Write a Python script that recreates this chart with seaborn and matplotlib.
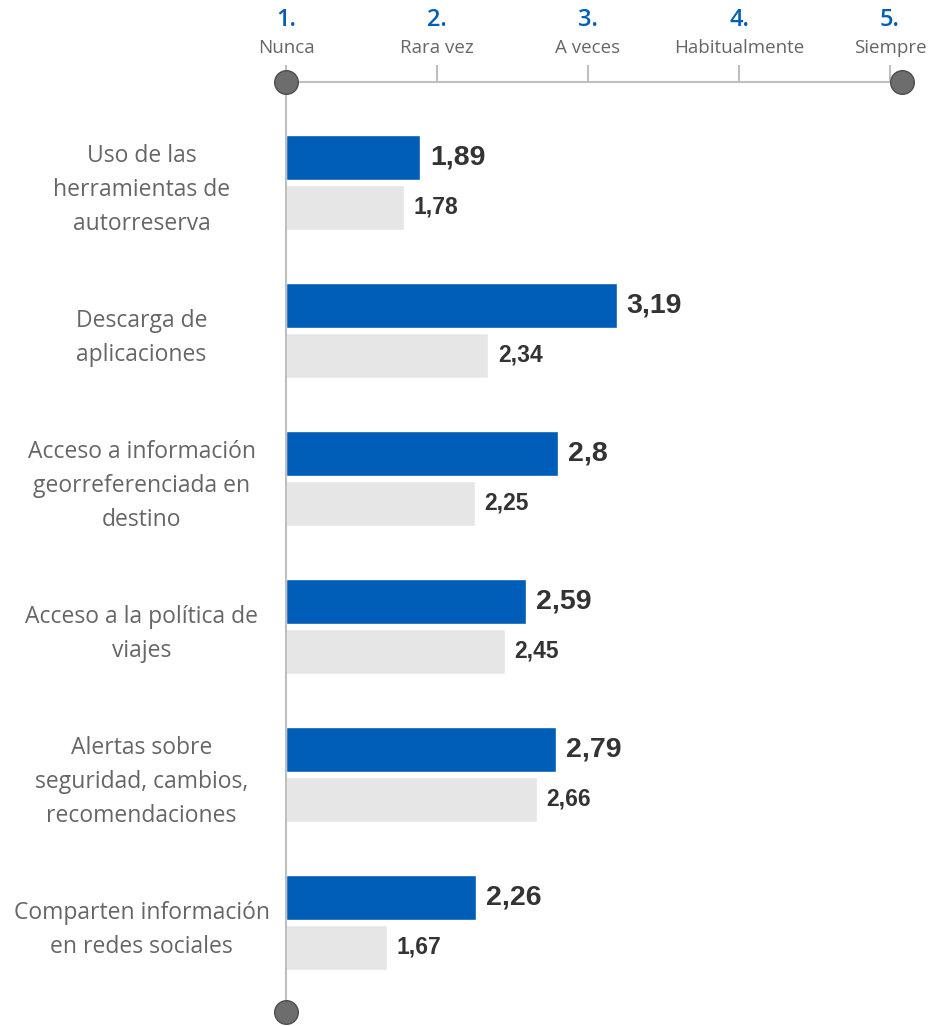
# Uso de herramientas digitales en viajes: barras horizontales con escala 1-5

import pandas as pd
import seaborn as sns
import matplotlib.pyplot as plt
from matplotlib.transforms import blended_transform_factory

categorias = [
    "Uso de las\nherramientas de\nautorreserva",
    "Descarga de\naplicaciones",
    "Acceso a información\ngeorreferenciada en\ndestino",
    "Acceso a la política de\nviajes",
    "Alertas sobre\nseguridad, cambios,\nrecomendaciones",
    "Comparten información\nen redes sociales",
]
valores_actual = [1.89, 3.19, 2.8, 2.59, 2.79, 2.26]
valores_anterior = [1.78, 2.34, 2.25, 2.45, 2.66, 1.67]
escala_num = ["1.", "2.", "3.", "4.", "5."]
escala_txt = ["Nunca", "Rara vez", "A veces", "Habitualmente", "Siempre"]

df = pd.DataFrame({
    "categoria": categorias * 2,
    "serie": ["actual"] * len(categorias) + ["anterior"] * len(categorias),
    "valor": valores_actual + valores_anterior,
})
df["largo"] = df["valor"] - 1  # las barras arrancan en 1 (Nunca)

sns.set_theme(style="white")
plt.rcParams["font.family"] = ["Open Sans", "DejaVu Sans"]

azul = "#005EB8"
gris = "#E6E6E6"
linea = "#BFBFBF"
texto = "#666666"

fig = plt.figure(figsize=(9.42, 10.26), dpi=100)
ax = fig.add_axes([0.3036, 0.0136, 0.654, 0.9064])

sns.barplot(data=df, y="categoria", x="largo", hue="serie",
            palette=[azul, gris], saturation=1, width=0.676, gap=0.1,
            orient="h", legend=False, ax=ax)

def coma(v):
    return str(v).replace(".", ",")

for cont, vals, size in zip(ax.containers, [valores_actual, valores_anterior], [20.5, 16.5]):
    ax.bar_label(cont, labels=[coma(v) for v in vals], padding=7,
                 fontsize=size, fontweight="bold", color="#333333",
                 family=["Liberation Sans", "DejaVu Sans"])

ax.set_xlim(0, 4.08)
ax.set_ylim(5.608, -0.676)
ax.set_xlabel("")
ax.set_ylabel("")

# escala superior
ax.xaxis.tick_top()
ax.set_xticks(range(5))
ax.set_xticklabels(escala_txt)
ax.tick_params(axis="x", length=12, width=1.5, color=linea, labelsize=13.5,
               labelcolor=texto, pad=6)
trans = blended_transform_factory(ax.transData, ax.transAxes)
for i, n in enumerate(escala_num):
    ax.text(i, 1.067, n, transform=trans, ha="center", va="center",
            fontsize=17, fontweight="semibold", color=azul, clip_on=False)

# etiquetas de categorías
ax.tick_params(axis="y", length=0, pad=104, labelsize=16.5, labelcolor=texto)
for lab in ax.get_yticklabels():
    lab.set_ha("center")
    lab.set_multialignment("center")
    lab.set_linespacing(1.55)

for s in ["right", "bottom"]:
    ax.spines[s].set_visible(False)
for s in ["top", "left"]:
    ax.spines[s].set_color(linea)
    ax.spines[s].set_linewidth(1.5)

y0, y1 = ax.get_ylim()
ax.plot([0, 4.08, 0], [y1, y1, y0], "o", markersize=17, color="#6D6D6D",
        markeredgecolor="#4D4D4D", markeredgewidth=1, clip_on=False, zorder=5)

fig.savefig("out.png", dpi=100)
